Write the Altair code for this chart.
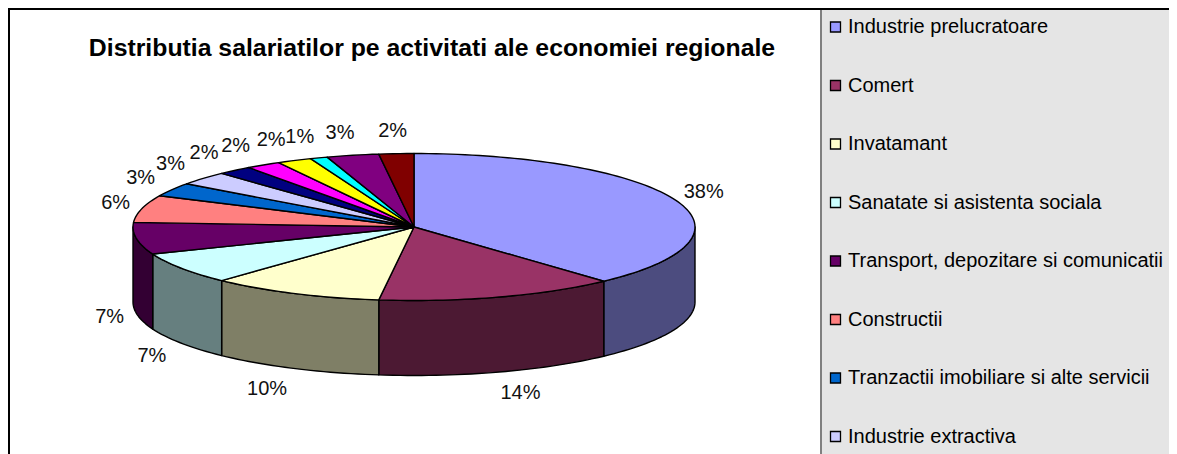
import math
import altair as alt

title_text = "Distributia salariatilor pe activitati ale economiei regionale"
shares = [38.2, 13.8, 10, 7, 7, 6, 3, 3, 2, 2, 2, 1, 3, 2]
slice_colors = ["#9999FF", "#993366", "#FFFFCC", "#CCFFFF", "#660066", "#FF8080", "#0066CC",
                "#CCCCFF", "#000080", "#FF00FF", "#FFFF00", "#00FFFF", "#800080", "#800000"]
legend_names = ["Industrie prelucratoare", "Comert", "Invatamant", "Sanatate si asistenta sociala",
                "Transport, depozitare si comunicatii", "Constructii",
                "Tranzactii imobiliare si alte servicii", "Industrie extractiva"]

# pie geometry, in chart pixels (page pixels minus the 8px margin)
CX, CY, RX, RY, DEPTH = 406, 219, 281, 73.5, 75
FONT = "Liberation Sans"


def rim(a, drop=0.0):
    r = math.radians(a)
    return [CX + RX * math.sin(r), CY - RY * math.cos(r) + drop]


def sweep(a0, a1):
    n = max(2, int(abs(a1 - a0) / 1.5) + 1)
    return [a0 + (a1 - a0) * i / n for i in range(n + 1)]


def poly(points, fill):
    return {"type": "Feature", "properties": {"fill": fill},
            "geometry": {"type": "Polygon", "coordinates": [points + [points[0]]]}}


def darker(c):
    return "#" + "".join(f"{int(c[i:i + 2], 16) // 2:02X}" for i in (1, 3, 5))


walls, tops, labels = [], [], []
start = 0.0
total = sum(shares)
for share, col in zip(shares, slice_colors):
    a0, a1 = start, start + 360.0 * share / total
    tops.append(poly([[CX, CY]] + [rim(a) for a in sweep(a0, a1)], col))
    lo, hi = max(a0, 90), min(a1, 270)
    if lo < hi:
        arc = sweep(lo, hi)
        walls.append(poly([rim(a) for a in arc] + [rim(a, DEPTH) for a in reversed(arc)], darker(col)))
    mid = math.radians((a0 + a1) / 2)
    s, c = math.sin(mid), math.cos(mid)
    rx_l = 308 + 50 * max(0, -c) ** 3 + 32 * max(0, c - 0.3) / 0.7
    labels.append({"lon": CX + rx_l * s, "lat": CY - 96 * c + (DEPTH if c < 0 else 0), "t": f"{round(share)}%"})
    start = a1

W, H = 1161, 446
PX = 813
panel = [poly([[PX, 0], [W, 0], [W, H], [PX, H]], "#E5E5E5")]
frame_black = [{"type": "Feature", "properties": {},
                "geometry": {"type": "LineString", "coordinates": [[1, H], [1, 1], [W, 1]]}}]
frame_grey = [{"type": "Feature", "properties": {},
               "geometry": {"type": "LineString", "coordinates": [[PX, 2], [PX, H]]}}]
legend_rows = [{"name": n, "fill": c, "lat": 19 + 58.5 * i, "lon": 827.5, "tx": 840}
               for i, (n, c) in enumerate(zip(legend_names, slice_colors))]

proj = dict(type="identity", scale=1, translate=[0, 0])

panel_l = alt.Chart(alt.Data(values=panel)).mark_geoshape(fill="#E5E5E5", strokeWidth=0).project(**proj)
grey_l = alt.Chart(alt.Data(values=frame_grey)).mark_geoshape(filled=False, stroke="#808080", strokeWidth=2).project(**proj)
black_l = alt.Chart(alt.Data(values=frame_black)).mark_geoshape(filled=False, stroke="black", strokeWidth=2).project(**proj)
wall_l = alt.Chart(alt.Data(values=walls)).mark_geoshape(stroke="black", strokeWidth=1.4, strokeJoin="round").encode(
    fill=alt.Fill("properties.fill:N", scale=None)).project(**proj)
top_l = alt.Chart(alt.Data(values=tops)).mark_geoshape(stroke="black", strokeWidth=1.4, strokeJoin="round").encode(
    fill=alt.Fill("properties.fill:N", scale=None)).project(**proj)
label_l = alt.Chart(alt.Data(values=labels)).mark_text(font=FONT, fontSize=20, color="#111111").encode(
    longitude="lon:Q", latitude="lat:Q", text="t:N").project(**proj)
swatch_l = alt.Chart(alt.Data(values=legend_rows)).mark_point(
    shape="square", filled=True, size=100, stroke="black", strokeWidth=1.3, opacity=1).encode(
    longitude="lon:Q", latitude="lat:Q", fill=alt.Fill("fill:N", scale=None)).project(**proj)
legend_l = alt.Chart(alt.Data(values=legend_rows)).mark_text(
    font=FONT, fontSize=20, color="black", align="left").encode(
    longitude="tx:Q", latitude="lat:Q", text="name:N").project(**proj)
title_l = alt.Chart(alt.Data(values=[{"lon": 424, "lat": 41, "t": title_text}])).mark_text(
    font=FONT, fontSize=24.8, fontWeight="bold", color="black").encode(
    longitude="lon:Q", latitude="lat:Q", text="t:N").project(**proj)

chart = alt.layer(panel_l, grey_l, black_l, wall_l, top_l, label_l, swatch_l, legend_l, title_l).properties(
    width=W, height=H, padding=0, background="white",
    autosize=alt.AutoSizeParams(type="none"),
).configure_view(stroke=None)

chart.save("out.html", embed_options={"renderer": "svg", "actions": False})
